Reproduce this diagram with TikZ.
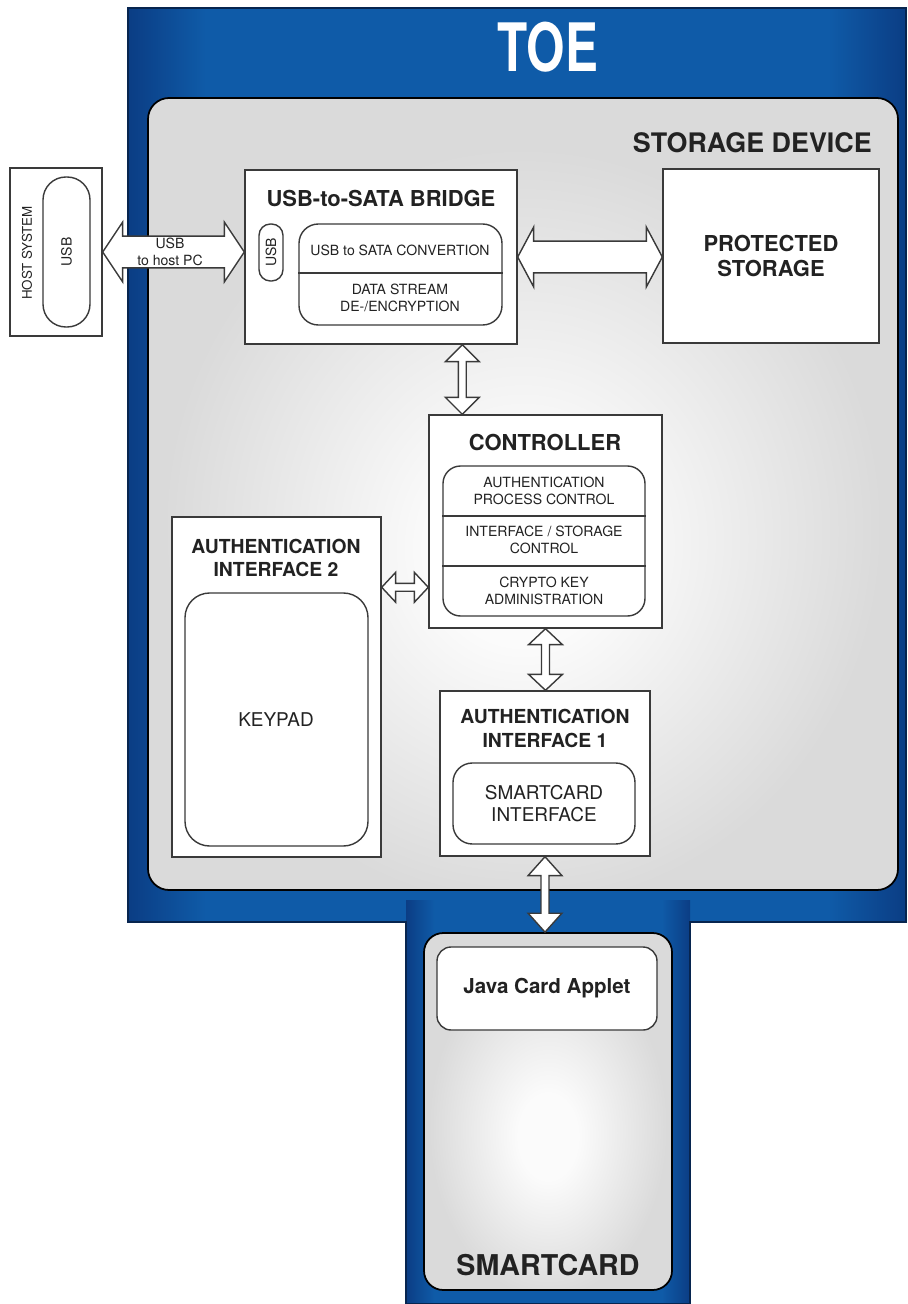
\documentclass[tikz,border=0pt]{standalone}
\usepackage{fontspec}
\setmainfont{TeX Gyre Heros}
\usetikzlibrary{calc,fit}
\definecolor{blueM}{HTML}{0F5BA8}
\definecolor{blueD}{HTML}{0B3D84}
\definecolor{grayD}{HTML}{DADADA}
\definecolor{grayL}{HTML}{FBFBFB}
\definecolor{lineC}{HTML}{3A3A3A}
\definecolor{txt}{HTML}{222222}
\pgfdeclarehorizontalshading{toeblue}{100bp}{color(0bp)=(blueD); color(25bp)=(blueD); color(30bp)=(blueM); color(70bp)=(blueM); color(75bp)=(blueD); color(100bp)=(blueD)}
\pgfdeclareradialshading{sdgray}{\pgfpoint{0bp}{-4bp}}{color(0bp)=(grayL); color(6bp)=(grayL); color(24bp)=(grayD); color(50bp)=(grayD)}
\newcommand\hdarrow[5]{%
  \draw[barrow] let \p1=(#1), \p2=(#2), \n1={#3*0.5669pt}, \n2={#4*0.5669pt}, \n3={#5*0.5669pt} in
    (\x1,\y1) -- (\x1+\n3,\y1+\n2) -- (\x1+\n3,\y1+\n1) -- (\x2-\n3,\y1+\n1) -- (\x2-\n3,\y1+\n2) -- (\x2,\y1)
    -- (\x2-\n3,\y1-\n2) -- (\x2-\n3,\y1-\n1) -- (\x1+\n3,\y1-\n1) -- (\x1+\n3,\y1-\n2) -- cycle;}
\newcommand\vdarrow[5]{%
  \draw[barrow] let \p1=(#1), \p2=(#2), \n1={#3*0.5669pt}, \n2={#4*0.5669pt}, \n3={#5*0.5669pt} in
    (\x1,\y1) -- (\x1+\n2,\y1-\n3) -- (\x1+\n1,\y1-\n3) -- (\x1+\n1,\y2+\n3) -- (\x1+\n2,\y2+\n3) -- (\x1,\y2)
    -- (\x1-\n2,\y2+\n3) -- (\x1-\n1,\y2+\n3) -- (\x1-\n1,\y1-\n3) -- (\x1-\n2,\y1-\n3) -- cycle;}
\begin{document}
\begin{tikzpicture}[x=0.02cm,y=-0.02cm,
  box/.style={draw=lineC, line width=0.8pt, fill=white, inner sep=0pt},
  rbox/.style={box, rounded corners=#1},
  barrow/.style={draw=lineC, line width=0.8pt, fill=white, line join=miter},
  ttl/.style={font=\bfseries\fontsize{12.5}{14.7}\selectfont, text=txt, align=center},
  ttlb/.style={font=\bfseries\fontsize{11}{13.6}\selectfont, text=txt, align=center},
  sm/.style={font=\fontsize{8}{9.6}\selectfont, text=txt, align=center},
  md/.style={font=\fontsize{10.8}{13}\selectfont, text=txt, align=center},
  divider/.style={draw=lineC, line width=0.8pt},
  panel/.style={draw=black, line width=1pt, inner sep=0pt, shading=sdgray}]
\useasboundingbox (0,0) rectangle (908,1304);
\fill[white] (0,0) rectangle (908,1304);
% TOE blue body
\shade[shading=toeblue] (128,8) rectangle (906,922);
\shade[shading=toeblue] (406,900) rectangle (690,1304);
\draw[blueD!60!black, line width=0.8pt] (128,8) -- (906,8) -- (906,922) -- (690,922) -- (690,1304)
  -- (406,1304) -- (406,922) -- (128,922) -- cycle;
\node[font=\bfseries\fontsize{38}{40}\selectfont, text=white] (toe) at (548,47) {\scalebox{0.74}[1]{TOE}};
% storage device
\node[panel, rounded corners=12pt, fit={(148,98) (898,890)}] (sd) {};
\node[font=\bfseries\fontsize{15.3}{18}\selectfont, text=txt, anchor=east] (sdl) at (878,143) {STORAGE DEVICE};
% smartcard
\node[panel, rounded corners=11pt, fit={(424,933) (672,1290)}] (sc) {};
\node[rbox=8pt, fit={(437,947) (657,1030)}] (jca) {};
\node[font=\bfseries\fontsize{11.7}{14}\selectfont, text=txt] at (jca.center) {Java Card Applet};
\node[font=\bfseries\fontsize{16.3}{19}\selectfont, text=txt] (scl) at (548,1265) {SMARTCARD};
% host system
\node[box, fit={(10,168) (102,336)}] (host) {};
\node[rbox=13pt, fit={(43,177) (90,327)}] (hostusb) {};
\node[font=\fontsize{7.6}{9}\selectfont, text=txt, rotate=90] at (27,253) {HOST SYSTEM};
\node[sm, rotate=90] at (hostusb.center) {USB};
% bridge
\node[box, fit={(245,170) (517,344)}] (bridge) {};
\node[ttl] at (381,198) {USB-to-SATA BRIDGE};
\node[rbox=6.5pt, fit={(259,224) (283,281)}] (busb) {};
\node[sm, rotate=90] at (busb.center) {USB};
\node[rbox=11pt, fit={(299,224) (502,325)}] (conv) {};
\draw[divider] (conv.west |- 0,273) -- (conv.east |- 0,273);
\node[sm] at (400,250) {USB to SATA CONVERTION};
\node[sm] at (400,298) {DATA STREAM\\DE-/ENCRYPTION};
% protected storage
\node[box, fit={(663,169) (879,343)}] (ps) {};
\node[ttl] at (771,256) {PROTECTED\\STORAGE};
% controller
\node[box, fit={(429,415) (662,628)}] (ctrl) {};
\node[ttl] at (545,442) {CONTROLLER};
\node[rbox=10pt, fit={(443,466) (645,616)}] (cin) {};
\draw[divider] (cin.west |- 0,516) -- (cin.east |- 0,516);
\draw[divider] (cin.west |- 0,566) -- (cin.east |- 0,566);
\node[sm] at (544,491) {AUTHENTICATION\\PROCESS CONTROL};
\node[sm] at (544,540) {INTERFACE / STORAGE\\CONTROL};
\node[sm] at (544,591) {CRYPTO KEY\\ADMINISTRATION};
% authentication interface 2
\node[box, fit={(172,517) (381,857)}] (ai2) {};
\node[ttlb] at (276,558) {AUTHENTICATION\\INTERFACE 2};
\node[rbox=14pt, fit={(185,593) (368,846)}] (keypad) {};
\node[md] at (276,720) {KEYPAD};
% authentication interface 1
\node[box, fit={(440,691) (650,856)}] (ai1) {};
\node[ttlb] at (545,728) {AUTHENTICATION\\INTERFACE 1};
\node[rbox=11pt, fit={(453,763) (635,844)}] (scif) {};
\node[md] at (scif.center) {SMARTCARD\\INTERFACE};
% connectors
\hdarrow{host.east}{bridge.west}{16}{30}{20}
\node[sm] at (170,252) {USB\\to host PC};
\hdarrow{bridge.east}{ps.west}{16}{30}{16}
\coordinate (c1) at ($(ctrl.north west)+(34,0)$);
\vdarrow{bridge.south -| c1}{c1}{4}{17}{17}
\vdarrow{ctrl.south}{ai1.north}{4}{17}{16}
\coordinate (y588) at ($(ai2.north east)+(0,71)$);
\hdarrow{ai2.east |- y588}{ctrl.west |- y588}{4}{15}{14}
\vdarrow{ai1.south}{sc.north}{4}{17}{19}
\end{tikzpicture}
\end{document}
